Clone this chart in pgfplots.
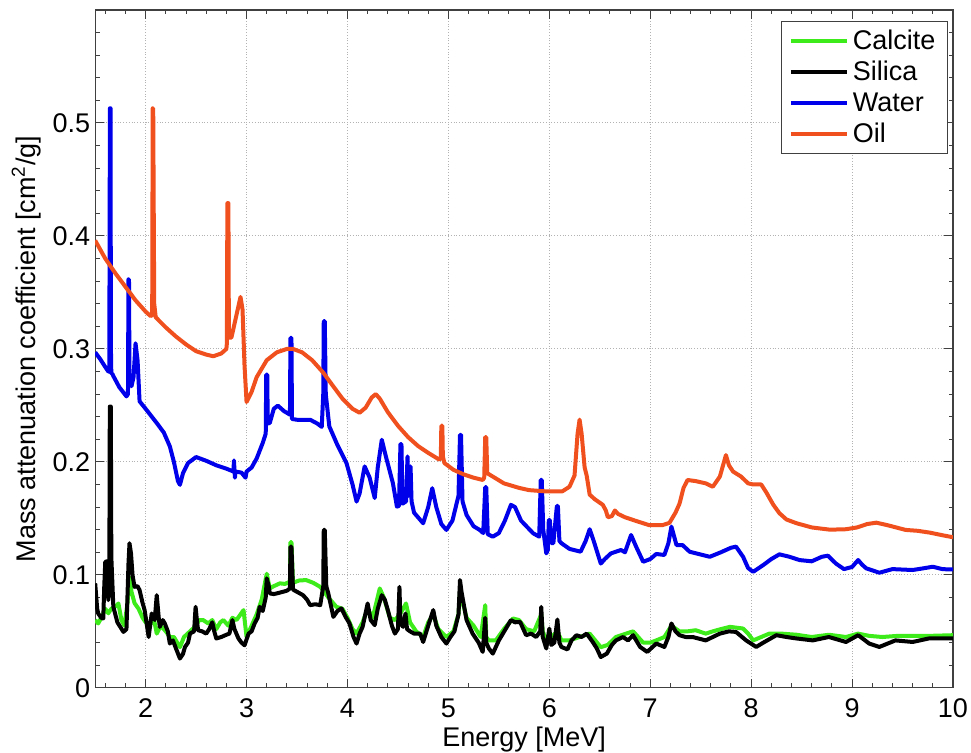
\documentclass[border=0pt]{standalone}
\usepackage{pgfplots}
\pgfplotsset{compat=1.18}
\usepackage{fontspec}
\setmainfont{Liberation Sans}
\definecolor{calcite}{RGB}{60,235,25}
\definecolor{water}{RGB}{0,0,235}
\definecolor{oil}{RGB}{240,80,30}
\begin{document}
\begin{tikzpicture}
\useasboundingbox (-47.6pt,-32.5pt) rectangle (438pt,344pt);
\begin{axis}[
  scale only axis, width=429pt, height=339pt,
  xmin=1.5, xmax=10, ymin=0, ymax=0.6,
  xtick={2,3,...,10}, minor xtick={1.6,1.8,...,9.9},
  ytick={0,0.1,0.2,0.3,0.4,0.5}, minor ytick={0.02,0.04,...,0.59},
  yticklabels={0,0.1,0.2,0.3,0.4,0.5},
  tick align=inside, major tick length=4.5pt, minor tick length=2.2pt,
  tick style={black!75, line width=0.5pt},
  axis line style={black!75, line width=0.6pt},
  xmajorgrids, ymajorgrids,
  major grid style={densely dotted, black!30, line width=0.5pt},
  font=\fontsize{13.5}{15}\selectfont,
  /pgf/number format/assume math mode=true,
  xticklabel style={yshift=-2pt},
  yticklabel style={xshift=1pt},
  xlabel={Energy [MeV]},
  ylabel={Mass attenuation coefficient [cm\textsuperscript{2}/g]},
  xlabel style={yshift=2.5pt},
  ylabel style={yshift=-1pt},
  legend style={at={(1,1)}, anchor=north east, xshift=-2.5pt, yshift=-5.5pt,
    draw=black!75, line width=0.5pt, font=\fontsize{13.5}{15}\selectfont,
    inner xsep=4pt, inner ysep=2pt, row sep=0.5pt, cells={anchor=west}},
  legend image code/.code={\draw[#1, line width=2pt] (0pt,0pt) -- (28pt,0pt);},
  every axis plot/.append style={line width=2pt, line join=round},
]
\addplot[calcite] table {
1.50 0.060
1.53 0.057
1.56 0.062
1.58 0.0658
1.60 0.070
1.63 0.066
1.66 0.070
1.70 0.072
1.73 0.0747
1.76 0.060
1.79 0.055
1.82 0.075
1.84 0.098
1.86 0.085
1.89 0.075
1.93 0.070
1.97 0.062
2.00 0.058
2.04 0.055
2.08 0.062
2.11 0.048
2.15 0.055
2.20 0.050
2.24 0.045
2.28 0.045
2.34 0.036
2.38 0.045
2.44 0.050
2.50 0.055
2.53 0.060
2.57 0.060
2.62 0.057
2.66 0.060
2.70 0.052
2.74 0.058
2.77 0.060
2.82 0.055
2.86 0.062
2.90 0.060
2.94 0.065
2.97 0.0688
3.00 0.045
3.05 0.055
3.10 0.065
3.15 0.078
3.20 0.101
3.23 0.088
3.27 0.090
3.33 0.0925
3.38 0.092
3.43 0.094
3.435 0.129
3.445 0.129
3.46 0.093
3.52 0.095
3.59 0.0954
3.66 0.093
3.73 0.0894
3.77 0.085
3.81 0.080
3.89 0.0717
3.95 0.070
4.00 0.062
4.05 0.052
4.09 0.048
4.15 0.058
4.20 0.070
4.25 0.062
4.32 0.088
4.36 0.080
4.42 0.062
4.47 0.060
4.52 0.065
4.58 0.0747
4.62 0.058
4.68 0.050
4.75 0.045
4.80 0.058
4.85 0.065
4.90 0.052
4.98 0.045
5.05 0.050
5.10 0.065
5.115 0.085
5.13 0.080
5.18 0.062
5.25 0.055
5.32 0.045
5.365 0.0732
5.375 0.045
5.40 0.042
5.47 0.042
5.55 0.052
5.64 0.0614
5.70 0.060
5.77 0.052
5.85 0.050
5.92 0.065
5.935 0.050
5.97 0.042
6.02 0.045
6.08 0.050
6.12 0.042
6.20 0.042
6.30 0.045
6.40 0.048
6.51 0.036
6.58 0.038
6.66 0.045
6.76 0.048
6.83 0.050
6.93 0.040
7.00 0.040
7.06 0.042
7.14 0.045
7.21 0.055
7.29 0.050
7.37 0.050
7.45 0.051
7.55 0.048
7.62 0.050
7.70 0.052
7.79 0.054
7.92 0.0525
7.97 0.048
8.02 0.042
8.10 0.045
8.18 0.048
8.30 0.048
8.45 0.047
8.60 0.045
8.77 0.047
8.94 0.045
9.06 0.048
9.17 0.046
9.30 0.045
9.45 0.046
9.60 0.046
9.76 0.046
10.0 0.0466
};
\addlegendentry{Calcite}
\addplot[black] table {
1.50 0.0925
1.52 0.070
1.53 0.0658
1.56 0.062
1.58 0.0614
1.59 0.090
1.60 0.1116
1.62 0.112
1.63 0.0776
1.64 0.09
1.645 0.249
1.655 0.249
1.66 0.116
1.68 0.0717
1.72 0.058
1.78 0.0495
1.81 0.052
1.83 0.110
1.84 0.128
1.855 0.119
1.87 0.100
1.89 0.0894
1.92 0.090
1.94 0.0865
1.97 0.075
1.99 0.0688
2.03 0.045
2.06 0.0658
2.09 0.060
2.11 0.082
2.13 0.062
2.14 0.054
2.17 0.060
2.19 0.057
2.22 0.050
2.24 0.0392
2.27 0.042
2.30 0.035
2.34 0.0259
2.37 0.030
2.39 0.0362
2.42 0.040
2.44 0.0481
2.48 0.050
2.495 0.0717
2.51 0.058
2.52 0.051
2.56 0.050
2.60 0.048
2.63 0.052
2.66 0.058
2.68 0.050
2.70 0.0437
2.75 0.045
2.80 0.047
2.83 0.048
2.86 0.060
2.88 0.052
2.92 0.0437
2.95 0.040
2.98 0.0377
3.02 0.048
3.05 0.050
3.08 0.057
3.11 0.062
3.13 0.0717
3.16 0.068
3.19 0.080
3.20 0.0969
3.22 0.090
3.23 0.0836
3.27 0.083
3.30 0.0836
3.36 0.085
3.40 0.086
3.43 0.088
3.435 0.125
3.445 0.125
3.46 0.087
3.50 0.085
3.56 0.082
3.60 0.078
3.63 0.0732
3.68 0.074
3.73 0.0732
3.76 0.090
3.765 0.1398
3.775 0.1398
3.79 0.090
3.81 0.0836
3.86 0.0628
3.90 0.068
3.94 0.0703
3.98 0.063
4.02 0.057
4.06 0.045
4.09 0.0392
4.12 0.048
4.15 0.054
4.20 0.0747
4.23 0.060
4.27 0.0555
4.30 0.070
4.34 0.082
4.37 0.078
4.40 0.0688
4.44 0.055
4.47 0.048
4.50 0.052
4.515 0.0894
4.525 0.058
4.55 0.054
4.575 0.0658
4.59 0.052
4.62 0.050
4.66 0.048
4.72 0.048
4.75 0.0406
4.80 0.055
4.85 0.0688
4.88 0.055
4.93 0.045
4.98 0.0392
5.02 0.045
5.06 0.050
5.10 0.065
5.115 0.0954
5.13 0.085
5.18 0.060
5.24 0.048
5.30 0.040
5.34 0.0318
5.365 0.062
5.375 0.040
5.40 0.035
5.44 0.0303
5.50 0.042
5.54 0.048
5.62 0.060
5.66 0.058
5.71 0.0584
5.77 0.0466
5.82 0.048
5.87 0.045
5.91 0.050
5.92 0.0717
5.935 0.045
5.97 0.0348
6.00 0.0525
6.02 0.038
6.05 0.040
6.08 0.0605
6.10 0.040
6.12 0.0362
6.18 0.034
6.22 0.042
6.27 0.0466
6.32 0.045
6.37 0.048
6.43 0.0406
6.47 0.035
6.51 0.0273
6.57 0.0303
6.62 0.038
6.66 0.042
6.73 0.045
6.78 0.042
6.83 0.0466
6.90 0.0362
6.97 0.0318
7.06 0.0392
7.14 0.0362
7.18 0.045
7.21 0.057
7.25 0.050
7.29 0.0466
7.35 0.045
7.42 0.045
7.55 0.042
7.62 0.045
7.69 0.048
7.78 0.050
7.85 0.0495
7.95 0.042
8.05 0.0362
8.12 0.040
8.25 0.0466
8.35 0.045
8.45 0.0437
8.61 0.042
8.77 0.045
8.94 0.0406
9.06 0.0466
9.17 0.0392
9.27 0.0362
9.43 0.042
9.60 0.0406
9.76 0.0437
10.0 0.0437
};
\addlegendentry{Silica}
\addplot[water] table {
1.50 0.297
1.55 0.291
1.60 0.284
1.63 0.280
1.64 0.280
1.643 0.40
1.646 0.513
1.652 0.513
1.656 0.30
1.66 0.278
1.67 0.278
1.68 0.276
1.74 0.266
1.81 0.258
1.825 0.26
1.83 0.3616
1.835 0.3616
1.84 0.275
1.86 0.267
1.88 0.275
1.90 0.305
1.92 0.29
1.94 0.2536
2.00 0.247
2.11 0.2344
2.18 0.226
2.24 0.2137
2.28 0.200
2.32 0.183
2.34 0.1797
2.37 0.190
2.42 0.199
2.50 0.2043
2.60 0.201
2.70 0.197
2.80 0.194
2.87 0.1915
2.875 0.2013
2.885 0.186
2.89 0.1915
2.95 0.1905
2.99 0.186
3.00 0.1915
3.05 0.195
3.10 0.203
3.16 0.2167
3.19 0.225
3.195 0.2773
3.205 0.2773
3.21 0.234
3.23 0.2344
3.27 0.247
3.31 0.2498
3.37 0.245
3.43 0.2418
3.435 0.3098
3.445 0.3098
3.45 0.238
3.50 0.2373
3.63 0.2373
3.70 0.234
3.745 0.231
3.76 0.26
3.765 0.3246
3.775 0.3246
3.785 0.26
3.82 0.2314
3.90 0.215
3.99 0.199
4.05 0.180
4.09 0.1649
4.12 0.172
4.17 0.196
4.22 0.186
4.27 0.168
4.30 0.195
4.34 0.2196
4.38 0.205
4.45 0.1812
4.49 0.1604
4.51 0.161
4.525 0.2158
4.535 0.2158
4.545 0.163
4.58 0.165
4.595 0.2048
4.605 0.17
4.615 0.178
4.625 0.196
4.635 0.165
4.66 0.155
4.75 0.1457
4.80 0.160
4.84 0.1767
4.88 0.16
4.93 0.145
4.98 0.1398
5.04 0.148
5.10 0.170
5.115 0.224
5.125 0.224
5.14 0.165
5.18 0.153
5.25 0.143
5.31 0.1398
5.345 0.137
5.365 0.1776
5.375 0.1776
5.39 0.136
5.44 0.1338
5.50 0.137
5.56 0.148
5.62 0.162
5.66 0.160
5.72 0.148
5.84 0.1368
5.90 0.1338
5.915 0.184
5.925 0.184
5.94 0.14
5.97 0.119
5.985 0.122
5.995 0.1486
6.005 0.1486
6.02 0.128
6.04 0.128
6.075 0.161
6.085 0.161
6.10 0.13
6.12 0.128
6.20 0.123
6.31 0.1205
6.36 0.130
6.40 0.1404
6.44 0.130
6.51 0.110
6.55 0.114
6.61 0.119
6.66 0.1205
6.71 0.122
6.75 0.120
6.81 0.1353
6.86 0.125
6.93 0.1116
7.00 0.114
7.06 0.1185
7.14 0.1176
7.18 0.128
7.21 0.1427
7.24 0.133
7.26 0.1264
7.32 0.1264
7.39 0.1205
7.50 0.118
7.59 0.116
7.70 0.120
7.80 0.124
7.85 0.125
7.92 0.116
7.97 0.106
8.02 0.1027
8.12 0.1087
8.20 0.114
8.28 0.1182
8.38 0.116
8.48 0.1131
8.60 0.112
8.70 0.116
8.76 0.117
8.84 0.110
8.92 0.1051
9.00 0.107
9.06 0.1131
9.10 0.109
9.14 0.1058
9.27 0.1019
9.40 0.1051
9.60 0.1043
9.72 0.106
9.80 0.1072
9.90 0.105
10.0 0.1049
};
\addlegendentry{Water}
\addplot[oil] table {
1.50 0.396
1.60 0.380
1.70 0.367
1.80 0.355
1.90 0.343
2.00 0.333
2.05 0.329
2.065 0.33
2.07 0.513
2.075 0.513
2.085 0.34
2.10 0.328
2.20 0.319
2.30 0.311
2.40 0.304
2.50 0.298
2.60 0.295
2.67 0.2935
2.75 0.296
2.80 0.300
2.805 0.305
2.81 0.429
2.82 0.429
2.825 0.31
2.85 0.31
2.90 0.330
2.94 0.346
2.96 0.335
2.98 0.285
3.00 0.253
3.05 0.262
3.10 0.275
3.20 0.290
3.30 0.297
3.40 0.300
3.46 0.300
3.55 0.297
3.65 0.290
3.76 0.279
3.85 0.268
3.95 0.256
4.05 0.247
4.12 0.2435
4.18 0.248
4.24 0.257
4.28 0.260
4.32 0.256
4.40 0.244
4.50 0.232
4.60 0.222
4.70 0.214
4.80 0.208
4.91 0.202
4.925 0.204
4.93 0.232
4.94 0.232
4.945 0.205
4.96 0.199
5.05 0.193
5.15 0.189
5.25 0.186
5.34 0.184
5.355 0.186
5.365 0.222
5.375 0.222
5.385 0.19
5.44 0.187
5.55 0.181
5.70 0.177
5.80 0.175
5.95 0.174
6.13 0.174
6.20 0.178
6.25 0.188
6.28 0.225
6.30 0.2374
6.32 0.225
6.35 0.195
6.37 0.188
6.40 0.171
6.45 0.167
6.53 0.162
6.56 0.157
6.58 0.151
6.62 0.152
6.65 0.157
6.68 0.154
6.75 0.151
6.85 0.148
6.99 0.144
7.12 0.144
7.19 0.146
7.25 0.155
7.29 0.163
7.33 0.177
7.37 0.184
7.45 0.183
7.55 0.181
7.62 0.178
7.69 0.187
7.75 0.206
7.78 0.197
7.82 0.1915
7.90 0.187
7.97 0.181
8.02 0.180
8.10 0.180
8.15 0.173
8.22 0.162
8.28 0.1546
8.35 0.149
8.45 0.1457
8.60 0.142
8.78 0.140
8.94 0.1404
9.05 0.142
9.15 0.145
9.24 0.1462
9.35 0.144
9.53 0.1398
9.65 0.139
9.77 0.1374
9.90 0.135
10.0 0.1333
};
\addlegendentry{Oil}
\end{axis}
\end{tikzpicture}
\end{document}
